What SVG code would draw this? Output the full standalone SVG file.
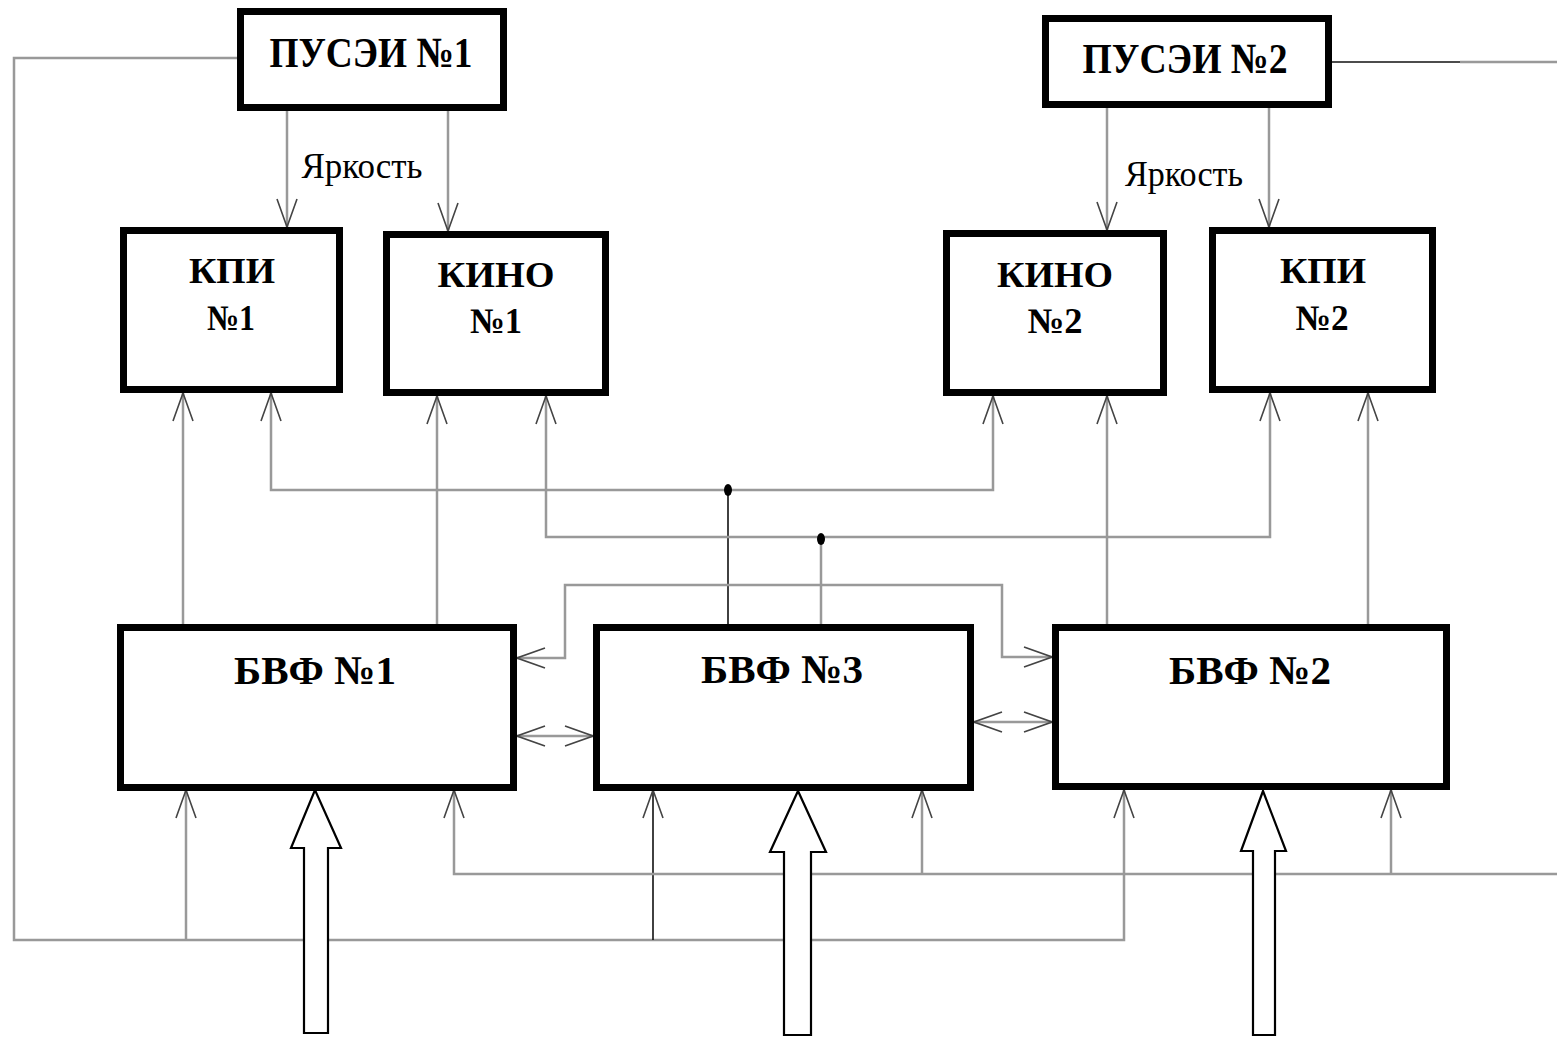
<svg xmlns="http://www.w3.org/2000/svg" width="1557" height="1037" viewBox="0 0 1557 1037">
<style>
.box{fill:#fff;stroke:#000;stroke-width:7}
.t{font-family:"Liberation Serif","Times New Roman",serif;font-weight:bold;fill:#000;text-anchor:middle}
.lbl{font-family:"Liberation Serif","Times New Roman",serif;fill:#000;text-anchor:middle}
.g{fill:none;stroke:#999;stroke-width:2.5}
.k{fill:none;stroke:#111;stroke-width:1.6}
.big{fill:#fff;stroke:#000;stroke-width:2.2}
</style>
<defs>
<marker id="v" viewBox="-30 -13 32 26" refX="0" refY="0" markerWidth="32" markerHeight="26" markerUnits="userSpaceOnUse" orient="auto-start-reverse">
<path d="M-28,-10 L0,0 L-28,10" fill="none" stroke="#444" stroke-width="1.6"/>
</marker>
</defs>
<rect width="1557" height="1037" fill="#fff"/>
<g id="connectors">
<line class="g" x1="287" y1="111" x2="287" y2="227" marker-end="url(#v)"/>
<line class="g" x1="448" y1="111" x2="448" y2="231" marker-end="url(#v)"/>
<line class="g" x1="1107" y1="108" x2="1107" y2="230" marker-end="url(#v)"/>
<line class="g" x1="1269" y1="108" x2="1269" y2="227" marker-end="url(#v)"/>
<line class="g" x1="183" y1="624" x2="183" y2="393" marker-end="url(#v)"/>
<line class="g" x1="437" y1="624" x2="437" y2="396" marker-end="url(#v)"/>
<line class="g" x1="1107" y1="624" x2="1107" y2="396" marker-end="url(#v)"/>
<line class="g" x1="1368" y1="624" x2="1368" y2="393" marker-end="url(#v)"/>
<line class="k" x1="728" y1="624" x2="728" y2="490"/>
<polyline class="g" points="271,393 271,490 993,490 993,396" marker-start="url(#v)" marker-end="url(#v)"/>
<line class="g" x1="821" y1="624" x2="821" y2="537"/>
<polyline class="g" points="546,396 546,537 1270,537 1270,393" marker-start="url(#v)" marker-end="url(#v)"/>
<ellipse cx="728" cy="490" rx="4" ry="6" fill="#000"/>
<ellipse cx="821" cy="539" rx="4" ry="6" fill="#000"/>
<polyline class="g" points="517,658 565,658 565,585 1002,585 1002,657 1052,657" marker-start="url(#v)" marker-end="url(#v)"/>
<line class="g" x1="517" y1="736" x2="593" y2="736" marker-start="url(#v)" marker-end="url(#v)"/>
<line class="g" x1="974" y1="722" x2="1052" y2="722" marker-start="url(#v)" marker-end="url(#v)"/>
<polyline class="g" points="237,58 14,58 14,940 1124,940 1124,790" marker-end="url(#v)"/>
<line class="g" x1="186" y1="940" x2="186" y2="790" marker-end="url(#v)"/>
<line class="k" x1="653" y1="940" x2="653" y2="790" marker-end="url(#v)"/>
<line class="k" x1="1332" y1="62" x2="1460" y2="62"/>
<line class="g" x1="1460" y1="62" x2="1557" y2="62"/>
<polyline class="g" points="1557,874 454,874 454,790" marker-end="url(#v)"/>
<line class="g" x1="922" y1="874" x2="922" y2="790" marker-end="url(#v)"/>
<line class="g" x1="1391" y1="874" x2="1391" y2="790" marker-end="url(#v)"/>
<polygon class="big" points="304,1033 304,848 291,848 315,790 341,848 328,848 328,1033"/>
<polygon class="big" points="784,1035 784,852 770,852 798,791 826,852 811,852 811,1035"/>
<polygon class="big" points="1253,1035 1253,851 1241,851 1263,791 1286,851 1275,851 1275,1035"/>
</g>
<g id="pusei1">
<rect class="box" x="240.5" y="11.5" width="263" height="96"/>
<text class="t" x="371" y="67" font-size="43" textLength="203" lengthAdjust="spacingAndGlyphs">ПУСЭИ №1</text>
</g>
<g id="pusei2">
<rect class="box" x="1045.5" y="18.5" width="283" height="86"/>
<text class="t" x="1185" y="73" font-size="43" textLength="205" lengthAdjust="spacingAndGlyphs">ПУСЭИ №2</text>
</g>
<text class="lbl" x="362" y="178" font-size="35" textLength="121" lengthAdjust="spacingAndGlyphs">Яркость</text>
<text class="lbl" x="1184" y="186" font-size="35" textLength="118" lengthAdjust="spacingAndGlyphs">Яркость</text>
<g id="kpi1">
<rect class="box" x="123.5" y="230.5" width="216" height="159"/>
<text class="t" x="232" y="283" font-size="36" textLength="86" lengthAdjust="spacingAndGlyphs">КПИ</text>
<text class="t" x="231" y="330" font-size="36" textLength="48" lengthAdjust="spacingAndGlyphs">№1</text>
</g>
<g id="kino1">
<rect class="box" x="386.5" y="234.5" width="219" height="158"/>
<text class="t" x="496" y="287" font-size="36" textLength="117" lengthAdjust="spacingAndGlyphs">КИНО</text>
<text class="t" x="496" y="333" font-size="36" textLength="52" lengthAdjust="spacingAndGlyphs">№1</text>
</g>
<g id="kino2">
<rect class="box" x="946.5" y="233.5" width="217" height="159"/>
<text class="t" x="1055" y="287" font-size="36" textLength="116" lengthAdjust="spacingAndGlyphs">КИНО</text>
<text class="t" x="1055" y="333" font-size="36" textLength="55" lengthAdjust="spacingAndGlyphs">№2</text>
</g>
<g id="kpi2">
<rect class="box" x="1212.5" y="230.5" width="220" height="159"/>
<text class="t" x="1323" y="283" font-size="36" textLength="86" lengthAdjust="spacingAndGlyphs">КПИ</text>
<text class="t" x="1322" y="330" font-size="36" textLength="53" lengthAdjust="spacingAndGlyphs">№2</text>
</g>
<g id="bvf1">
<rect class="box" x="120.5" y="627.5" width="393" height="160"/>
<text class="t" x="315" y="684" font-size="41" textLength="162" lengthAdjust="spacingAndGlyphs">БВФ №1</text>
</g>
<g id="bvf3">
<rect class="box" x="596.5" y="627.5" width="374" height="160"/>
<text class="t" x="782" y="683" font-size="41" textLength="162" lengthAdjust="spacingAndGlyphs">БВФ №3</text>
</g>
<g id="bvf2">
<rect class="box" x="1055.5" y="627.5" width="391" height="159"/>
<text class="t" x="1250" y="684" font-size="41" textLength="162" lengthAdjust="spacingAndGlyphs">БВФ №2</text>
</g>
</svg>
